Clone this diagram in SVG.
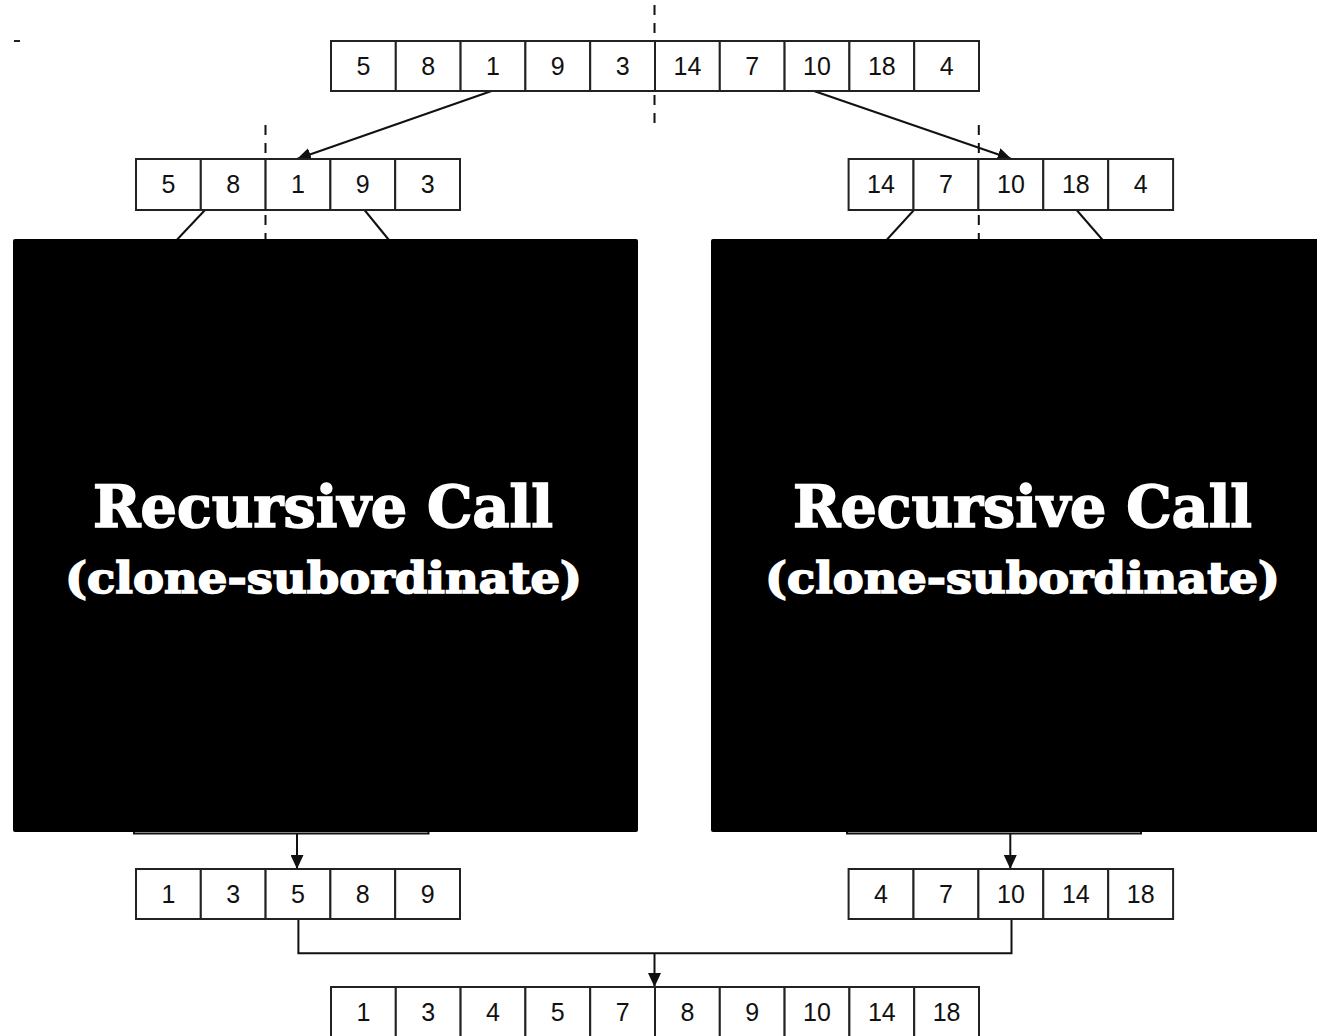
<svg xmlns="http://www.w3.org/2000/svg" width="1317" height="1036" viewBox="0 0 1317 1036">
  <style>
    .cell { fill: #fff; stroke: #222; stroke-width: 2; }
    .num { font-family: "Liberation Sans", Arial, sans-serif; font-size: 25px; fill: #111; text-anchor: middle; }
    .line { fill: none; stroke: #111; stroke-width: 2; }
    .dash { fill: none; stroke: #111; stroke-width: 2; stroke-dasharray: 10 8; }
    .cover { fill: #000; }
    .title { font-family: "DejaVu Serif", "Liberation Serif", serif; font-weight: bold; fill: #fff; stroke: #fff; stroke-width: 1.6; text-anchor: middle; }
  </style>
  <defs>
    <marker id="arrow" viewBox="0 0 14 13" refX="14" refY="6.5" markerWidth="14" markerHeight="13" markerUnits="userSpaceOnUse" orient="auto">
      <path d="M0,0 L14,6.5 L0,13 z" fill="#111"/>
    </marker>
  </defs>
  <rect width="1317" height="1036" fill="#fff"/>

  <!-- stray tick mark -->
  <line x1="14" y1="41" x2="20" y2="41" stroke="#222" stroke-width="2"/>

  <!-- connectors -->
  <g id="connectors">
    <line class="dash" x1="654.5" y1="5" x2="654.5" y2="125"/>
    <line class="dash" x1="265.5" y1="125" x2="265.5" y2="239"/>
    <line class="dash" x1="978.8" y1="125" x2="978.8" y2="239"/>
    <line class="line" x1="491.6" y1="91" x2="297" y2="159" marker-end="url(#arrow)"/>
    <line class="line" x1="814" y1="91" x2="1011.5" y2="159" marker-end="url(#arrow)"/>
    <line class="line" x1="205" y1="210" x2="172" y2="245"/>
    <line class="line" x1="364.5" y1="210" x2="393" y2="245"/>
    <line class="line" x1="914" y1="210" x2="882" y2="245"/>
    <line class="line" x1="1076.6" y1="210" x2="1107" y2="245"/>
    <path class="line" d="M134,820 V833.5 H428.5 V820"/>
    <path class="line" d="M847,820 V833.5 H1141 V820"/>
    <line class="line" x1="297" y1="833.5" x2="297" y2="869" marker-end="url(#arrow)"/>
    <line class="line" x1="1010.3" y1="833.5" x2="1010.3" y2="869" marker-end="url(#arrow)"/>
    <path class="line" d="M298.4,919 V953.3 H1011.5 V919"/>
    <line class="line" x1="654.5" y1="953.3" x2="654.5" y2="987" marker-end="url(#arrow)"/>
  </g>

  <!-- top array -->
  <g id="array-top">
    <rect class="cell" x="331" y="41" width="64.8" height="50"/>
    <rect class="cell" x="395.8" y="41" width="64.8" height="50"/>
    <rect class="cell" x="460.6" y="41" width="64.8" height="50"/>
    <rect class="cell" x="525.4" y="41" width="64.8" height="50"/>
    <rect class="cell" x="590.2" y="41" width="64.8" height="50"/>
    <rect class="cell" x="655" y="41" width="64.8" height="50"/>
    <rect class="cell" x="719.8" y="41" width="64.8" height="50"/>
    <rect class="cell" x="784.6" y="41" width="64.8" height="50"/>
    <rect class="cell" x="849.4" y="41" width="64.8" height="50"/>
    <rect class="cell" x="914.2" y="41" width="64.8" height="50"/>
    <text class="num" x="363.4" y="75">5</text>
    <text class="num" x="428.2" y="75">8</text>
    <text class="num" x="493" y="75">1</text>
    <text class="num" x="557.8" y="75">9</text>
    <text class="num" x="622.6" y="75">3</text>
    <text class="num" x="687.4" y="75">14</text>
    <text class="num" x="752.2" y="75">7</text>
    <text class="num" x="817" y="75">10</text>
    <text class="num" x="881.8" y="75">18</text>
    <text class="num" x="946.6" y="75">4</text>
  </g>

  <!-- left half -->
  <g id="array-left">
    <rect class="cell" x="136" y="159" width="64.8" height="51"/>
    <rect class="cell" x="200.8" y="159" width="64.8" height="51"/>
    <rect class="cell" x="265.6" y="159" width="64.8" height="51"/>
    <rect class="cell" x="330.4" y="159" width="64.8" height="51"/>
    <rect class="cell" x="395.2" y="159" width="64.8" height="51"/>
    <text class="num" x="168.4" y="193">5</text>
    <text class="num" x="233.2" y="193">8</text>
    <text class="num" x="298" y="193">1</text>
    <text class="num" x="362.8" y="193">9</text>
    <text class="num" x="427.6" y="193">3</text>
  </g>

  <!-- right half -->
  <g id="array-right">
    <rect class="cell" x="848.6" y="159" width="64.9" height="51"/>
    <rect class="cell" x="913.5" y="159" width="64.9" height="51"/>
    <rect class="cell" x="978.4" y="159" width="64.9" height="51"/>
    <rect class="cell" x="1043.3" y="159" width="64.9" height="51"/>
    <rect class="cell" x="1108.2" y="159" width="64.9" height="51"/>
    <text class="num" x="881" y="193">14</text>
    <text class="num" x="946" y="193">7</text>
    <text class="num" x="1010.9" y="193">10</text>
    <text class="num" x="1075.8" y="193">18</text>
    <text class="num" x="1140.7" y="193">4</text>
  </g>

  <!-- recursive call panels -->
  <g id="call-left">
    <rect class="cover" x="13" y="239" width="625" height="593" rx="2"/>
    <text class="title" x="323" y="527" font-size="58" textLength="460" lengthAdjust="spacingAndGlyphs">Recursive Call</text>
    <text class="title" x="323.5" y="593" font-size="42" textLength="517" lengthAdjust="spacingAndGlyphs">(clone-subordinate)</text>
  </g>
  <g id="call-right">
    <rect class="cover" x="711" y="239" width="610" height="593" rx="2"/>
    <text class="title" x="1022.5" y="527" font-size="58" textLength="459" lengthAdjust="spacingAndGlyphs">Recursive Call</text>
    <text class="title" x="1022.5" y="593" font-size="42" textLength="515" lengthAdjust="spacingAndGlyphs">(clone-subordinate)</text>
  </g>

  <!-- sorted left half -->
  <g id="sorted-left">
    <rect class="cell" x="136" y="869" width="64.8" height="50"/>
    <rect class="cell" x="200.8" y="869" width="64.8" height="50"/>
    <rect class="cell" x="265.6" y="869" width="64.8" height="50"/>
    <rect class="cell" x="330.4" y="869" width="64.8" height="50"/>
    <rect class="cell" x="395.2" y="869" width="64.8" height="50"/>
    <text class="num" x="168.4" y="903">1</text>
    <text class="num" x="233.2" y="903">3</text>
    <text class="num" x="298" y="903">5</text>
    <text class="num" x="362.8" y="903">8</text>
    <text class="num" x="427.6" y="903">9</text>
  </g>

  <!-- sorted right half -->
  <g id="sorted-right">
    <rect class="cell" x="848.6" y="869" width="64.9" height="50"/>
    <rect class="cell" x="913.5" y="869" width="64.9" height="50"/>
    <rect class="cell" x="978.4" y="869" width="64.9" height="50"/>
    <rect class="cell" x="1043.3" y="869" width="64.9" height="50"/>
    <rect class="cell" x="1108.2" y="869" width="64.9" height="50"/>
    <text class="num" x="881" y="903">4</text>
    <text class="num" x="946" y="903">7</text>
    <text class="num" x="1010.9" y="903">10</text>
    <text class="num" x="1075.8" y="903">14</text>
    <text class="num" x="1140.7" y="903">18</text>
  </g>

  <!-- merged result -->
  <g id="merged">
    <rect class="cell" x="331" y="987" width="64.8" height="50"/>
    <rect class="cell" x="395.8" y="987" width="64.8" height="50"/>
    <rect class="cell" x="460.6" y="987" width="64.8" height="50"/>
    <rect class="cell" x="525.4" y="987" width="64.8" height="50"/>
    <rect class="cell" x="590.2" y="987" width="64.8" height="50"/>
    <rect class="cell" x="655" y="987" width="64.8" height="50"/>
    <rect class="cell" x="719.8" y="987" width="64.8" height="50"/>
    <rect class="cell" x="784.6" y="987" width="64.8" height="50"/>
    <rect class="cell" x="849.4" y="987" width="64.8" height="50"/>
    <rect class="cell" x="914.2" y="987" width="64.8" height="50"/>
    <text class="num" x="363.4" y="1021">1</text>
    <text class="num" x="428.2" y="1021">3</text>
    <text class="num" x="493" y="1021">4</text>
    <text class="num" x="557.8" y="1021">5</text>
    <text class="num" x="622.6" y="1021">7</text>
    <text class="num" x="687.4" y="1021">8</text>
    <text class="num" x="752.2" y="1021">9</text>
    <text class="num" x="817" y="1021">10</text>
    <text class="num" x="881.8" y="1021">14</text>
    <text class="num" x="946.6" y="1021">18</text>
  </g>
</svg>
